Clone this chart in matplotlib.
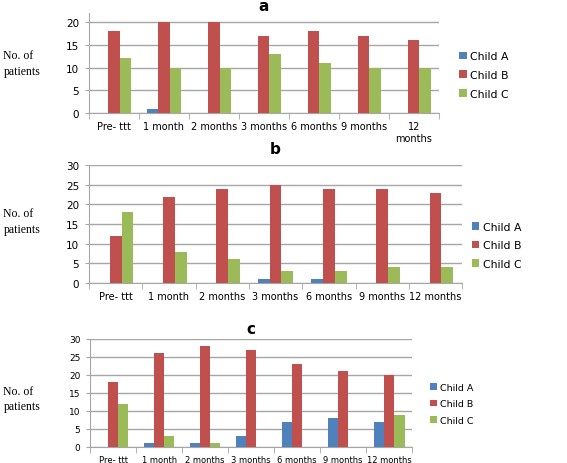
import numpy as np
import matplotlib
matplotlib.use('Agg')
import matplotlib.pyplot as plt

categories_a = ['Pre- ttt', '1 month', '2 months', '3 months', '6 months', '9 months', '12\nmonths']
categories_bc = ['Pre- ttt', '1 month', '2 months', '3 months', '6 months', '9 months', '12 months']
series_names = ['Child A', 'Child B', 'Child C']

a_child_a = [0, 1, 0, 0, 0, 0, 0]
a_child_b = [18, 20, 20, 17, 18, 17, 16]
a_child_c = [12, 10, 10, 13, 11, 10, 10]

b_child_a = [0, 0, 0, 1, 1, 0, 0]
b_child_b = [12, 22, 24, 25, 24, 24, 23]
b_child_c = [18, 8, 6, 3, 3, 4, 4]

c_child_a = [0, 1, 1, 3, 7, 8, 7]
c_child_b = [18, 26, 28, 27, 23, 21, 20]
c_child_c = [12, 3, 1, 0, 0, 0, 9]

colors = ['#4F81BD', '#C0504D', '#9BBB59']
grid_col = '#A6A6A6'

fig = plt.figure(figsize=(5.67, 4.64), dpi=100)


def panel(rect, title, data, labels, ylim, yticks, fs, legend_pos, ylab_y, tpad):
    ax = fig.add_axes(rect)
    x = np.arange(len(labels))
    w = 0.222
    for i, (vals, name) in enumerate(zip(data, series_names)):
        ax.bar(x + (i - 1) * w, vals, w, color=colors[i], label=name, zorder=3)
    ax.set_xlim(-0.5, len(labels) - 0.5)
    ax.set_ylim(*ylim)
    ax.set_yticks(yticks)
    ax.set_xticks(x)
    ax.set_xticklabels(labels, fontsize=fs)
    ax.tick_params(axis='x', length=0, pad=6)
    ax.tick_params(axis='y', labelsize=fs + 0.5, length=3, color=grid_col, pad=4)
    # tick marks between categories
    ax.set_xticks(np.arange(len(labels) + 1) - 0.5, minor=True)
    ax.tick_params(axis='x', which='minor', length=4, color=grid_col)
    ax.grid(axis='y', color=grid_col, linewidth=1, zorder=0)
    for s in ['top', 'right']:
        ax.spines[s].set_visible(False)
    for s in ['left', 'bottom']:
        ax.spines[s].set_color(grid_col)
    ax.set_title(title, fontsize=11, fontweight='bold', pad=tpad)
    ax.legend(loc='center left', bbox_to_anchor=legend_pos, frameon=False,
              fontsize=fs + 0.8, handlelength=0.7, handleheight=0.7,
              handletextpad=0.3, labelspacing=0.8)
    fig.text(0.006, ylab_y, 'No. of\npatients', family='Liberation Serif', fontsize=8.5,
             va='center', ha='left', linespacing=1.4)
    return ax


panel([0.157, 0.754, 0.617, 0.216], 'a', [a_child_a, a_child_b, a_child_c],
      categories_a, (0, 22), [0, 5, 10, 15, 20], 7, (1.03, 0.38), 0.862, 1)
panel([0.157, 0.388, 0.658, 0.254], 'b', [b_child_a, b_child_b, b_child_c],
      categories_bc, (0, 30), [0, 5, 10, 15, 20, 25, 30], 7, (1.0, 0.32), 0.522, 9)
panel([0.159, 0.0345, 0.568, 0.233], 'c', [c_child_a, c_child_b, c_child_c],
      categories_bc, (0, 30), [0, 5, 10, 15, 20, 25, 30], 6, (1.03, 0.4), 0.139, 4)

fig.savefig('out.png', dpi=100)
